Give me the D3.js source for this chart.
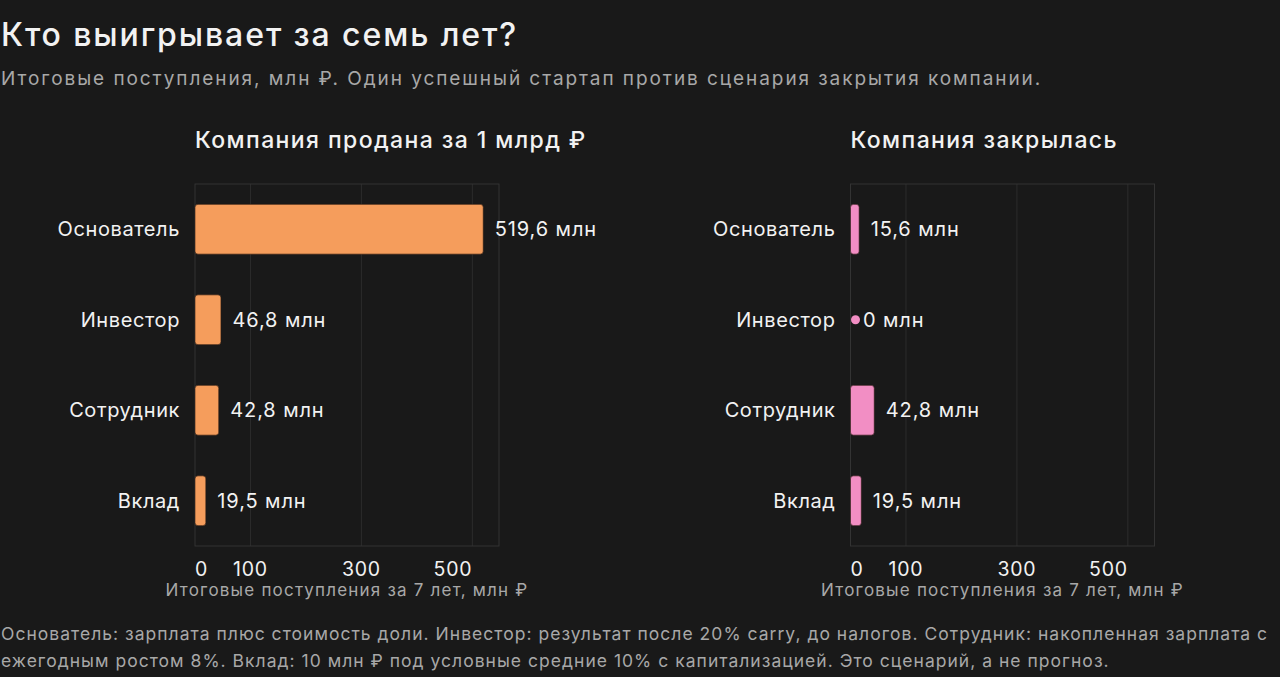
<!DOCTYPE html>
<html>
<head>
<meta charset="utf-8">
<script src="https://cdn.jsdelivr.net/npm/d3@7"></script>
<style>
  html, body { margin: 0; padding: 0; background: #191919; }
  svg { display: block; font-family: Inter, "Noto Sans", sans-serif; }
</style>
</head>
<body>
<svg id="chart" width="1280" height="677"></svg>
<script>
// Data
const roles        = ['Основатель', 'Инвестор', 'Сотрудник', 'Вклад'];
const soldValues   = [519.6, 46.8, 42.8, 19.5];
const closedValues = [15.6, 0, 42.8, 19.5];
const tickValues   = [0, 100, 300, 500];
const panelTitles  = ['Компания продана за 1 млрд ₽', 'Компания закрылась'];
const panelColors  = ['#f59d5c', '#f28ec4'];

const title     = 'Кто выигрывает за семь лет?';
const subtitle  = 'Итоговые поступления, млн ₽. Один успешный стартап против сценария закрытия компании.';
const axisTitle = 'Итоговые поступления за 7 лет, млн ₽';
const footer = [
  'Основатель: зарплата плюс стоимость доли. Инвестор: результат после 20% carry, до налогов. Сотрудник: накопленная зарплата с',
  'ежегодным ростом 8%. Вклад: 10 млн ₽ под условные средние 10% с капитализацией. Это сценарий, а не прогноз.'
];

const theme = { bg: '#191919', text: '#f2f2f2', muted: '#a8a8a8', grid: '#2c2c2c', frame: '#333333' };
const fmt = v => String(v).replace('.', ',') + ' млн';

const svg = d3.select('#chart');
svg.append('rect').attr('width', 1280).attr('height', 677).attr('fill', theme.bg);

svg.append('text').attr('x', 1).attr('y', 46)
  .attr('fill', theme.text).attr('font-size', 32).attr('font-weight', 500)
  .attr('letter-spacing', 1.9)
  .text(title);
svg.append('text').attr('x', 1).attr('y', 85)
  .attr('fill', theme.muted).attr('font-size', 19)
  .attr('letter-spacing', 1.93)
  .text(subtitle);

footer.forEach((line, i) => {
  svg.append('text').attr('x', 1).attr('y', 640 + i * 27)
    .attr('fill', theme.muted).attr('font-size', 17.5)
    .attr('letter-spacing', 1.02)
    .text(line);
});

const plotW = 304, plotH = 362, plotTop = 184;
const panels = [
  { x0: 195,   values: soldValues },
  { x0: 850.5, values: closedValues }
];

panels.forEach((p, pi) => {
  const g = svg.append('g').attr('transform', `translate(${p.x0},${plotTop})`);
  const x = d3.scaleLinear().domain([0, 548]).range([0, plotW]);
  const y = d3.scaleBand().domain(roles).range([0, plotH]).paddingInner(0.45).paddingOuter(0.225);
  const color = panelColors[pi];

  // panel title
  g.append('text').attr('x', 0).attr('y', -36)
    .attr('fill', theme.text).attr('font-size', 23).attr('font-weight', 500)
    .attr('letter-spacing', 1.4)
    .text(panelTitles[pi]);

  // grid
  g.selectAll('line.grid').data(tickValues.filter(d => d > 0)).join('line')
    .attr('class', 'grid')
    .attr('x1', d => x(d)).attr('x2', d => x(d))
    .attr('y1', 0).attr('y2', plotH)
    .attr('stroke', theme.grid).attr('stroke-width', 1);

  g.append('rect').attr('x', 0).attr('y', 0).attr('width', plotW).attr('height', plotH)
    .attr('fill', 'none').attr('stroke', theme.frame).attr('stroke-width', 1);

  // x tick labels (flush first/last like the reference)
  g.selectAll('text.tick').data(tickValues).join('text')
    .attr('class', 'tick')
    .attr('x', d => x(d)).attr('y', 392)
    .attr('text-anchor', (d, i) => i === 0 ? 'start' : (i === tickValues.length - 1 ? 'end' : 'middle'))
    .attr('fill', theme.text).attr('font-size', 19.5)
    .attr('letter-spacing', 0.8)
    .text(d => d);

  g.append('text').attr('x', plotW / 2).attr('y', 412)
    .attr('text-anchor', 'middle').attr('fill', theme.muted).attr('font-size', 17)
    .attr('letter-spacing', 1.2)
    .text(axisTitle);

  // y labels
  g.selectAll('text.role').data(roles).join('text')
    .attr('class', 'role')
    .attr('x', -15).attr('y', d => y(d) + y.bandwidth() / 2).attr('dy', '0.35em')
    .attr('text-anchor', 'end').attr('fill', theme.text).attr('font-size', 20)
    .attr('letter-spacing', 0.6)
    .text(d => d);

  const rows = roles.map((r, i) => ({ role: r, value: p.values[i] }));

  // bars
  g.selectAll('rect.bar').data(rows.filter(d => d.value > 0)).join('rect')
    .attr('class', 'bar')
    .attr('x', 0).attr('y', d => y(d.role))
    .attr('width', d => x(d.value)).attr('height', y.bandwidth())
    .attr('rx', 3).attr('fill', color)
    .attr('stroke', '#2a1a10').attr('stroke-width', 0.6);

  // zero marker
  g.selectAll('circle.zero').data(rows.filter(d => d.value === 0)).join('circle')
    .attr('class', 'zero')
    .attr('cx', d => x(d.value) + 5).attr('cy', d => y(d.role) + y.bandwidth() / 2)
    .attr('r', 4.5).attr('fill', color);

  // value labels
  g.selectAll('text.val').data(rows).join('text')
    .attr('class', 'val')
    .attr('x', d => x(d.value) + (d.value === 0 ? 12.5 : 11.5))
    .attr('y', d => y(d.role) + y.bandwidth() / 2).attr('dy', '0.35em')
    .attr('fill', theme.text).attr('font-size', 20)
    .attr('letter-spacing', 0.9)
    .text(d => fmt(d.value));
});
</script>
</body>
</html>
